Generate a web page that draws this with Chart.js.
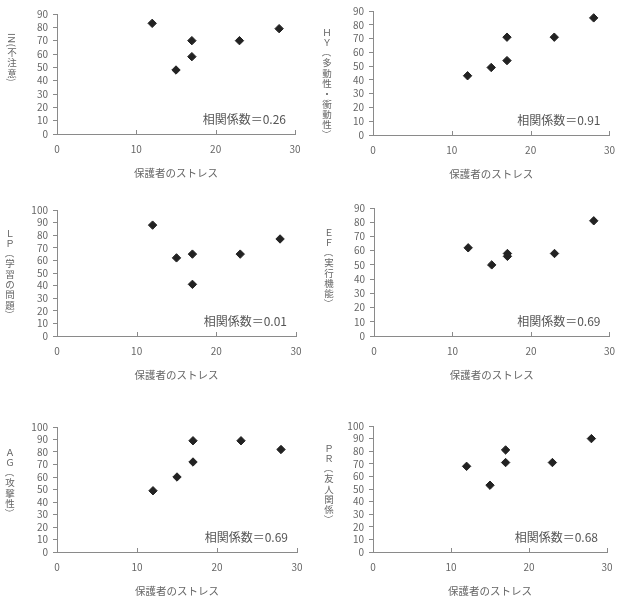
<!DOCTYPE html>
<html>
<head>
<meta charset="utf-8">
<script src="https://cdn.jsdelivr.net/npm/chart.js@4.4.1/dist/chart.umd.min.js"></script>
<style>
  body { margin: 0; background: #fff; }
  #page { position: relative; width: 624px; height: 604px; overflow: hidden; }
  .panel { position: absolute; width: 312px; }
</style>
</head>
<body>
<div id="page"></div>
<script>
// 保護者のストレス (x) と各尺度 (y)
const stress   = [12, 15, 17, 17, 23, 28];
const inScores = [83, 48, 70, 58, 70, 79];
const hyScores = [43, 49, 71, 54, 71, 85];
const lpScores = [88, 62, 65, 41, 65, 77];
const efScores = [62, 50, 58, 56, 58, 81];
const agScores = [49, 60, 89, 72, 89, 82];
const prScores = [68, 53, 81, 71, 71, 90];

const yTitles = ['IN(不注意)', 'ＨＹ（多動性・衝動性）', 'ＬＰ（学習の問題）',
                 'ＥＦ（実行機能）', 'ＡＧ（攻撃性）', 'ＰＲ（友人関係）'];
const corrValues = ['0.26', '0.91', '0.01', '0.69', '0.69', '0.68'];
const yMaxes = [90, 90, 100, 90, 100, 100];
const xTicks = [0, 10, 20, 30];
const xTitle = '保護者のストレス';

const series = [inScores, hyScores, lpScores, efScores, agScores, prScores];

// パネルの配置 (container位置, padding, 縦書きタイトルの中心x と 上端y)
const panels = [
  { left: 0,   top: 0,   h: 195, pad: { left: 23, right: 17, top: 14, bottom: 16 }, tx: 12, ty: 33 },
  { left: 312, top: 0,   h: 195, pad: { left: 27, right: 11, top: 10, bottom: 15 }, tx: 15, ty: 27 },
  { left: 0,   top: 195, h: 215, pad: { left: 23, right: 16, top: 15, bottom: 29 }, tx: 10, ty: 33 },
  { left: 312, top: 195, h: 215, pad: { left: 28, right: 11, top: 13, bottom: 29 }, tx: 17, ty: 32 },
  { left: 0,   top: 410, h: 194, pad: { left: 23, right: 15, top: 17, bottom: 7 },  tx: 10, ty: 37 },
  { left: 312, top: 410, h: 194, pad: { left: 27, right: 17, top: 16, bottom: 7 },  tx: 17, ty: 33 }
];

const axisColor = '#8a8a8a';
const textColor = '#666';
const fontFamily = '"Noto Sans CJK JP", sans-serif';

// 縦書きの y 軸タイトル (半角文字と括弧は90度回転)
function drawVertical(ctx, text, cx, top, size, step) {
  ctx.font = size + 'px ' + fontFamily;
  ctx.textAlign = 'center';
  ctx.textBaseline = 'middle';
  let y = top;
  for (const ch of text) {
    const w = ctx.measureText(ch).width;
    const rotate = ch.charCodeAt(0) < 0x80 || ch === '（' || ch === '）';
    if (rotate) {
      ctx.save();
      ctx.translate(cx, y + w / 2);
      ctx.rotate(Math.PI / 2);
      ctx.fillText(ch, 0, 0);
      ctx.restore();
      y += w + 0.5;
    } else {
      ctx.fillText(ch, cx, y + step / 2);
      y += step;
    }
  }
}

// 相関係数の表示、x 軸の内向き目盛り、y 軸タイトル
const extrasPlugin = {
  id: 'extras',
  afterDraw(chart, args, opts) {
    const ctx = chart.ctx;
    const area = chart.chartArea;
    const xs = chart.scales.x;
    ctx.save();
    ctx.strokeStyle = axisColor;
    ctx.lineWidth = 1;
    xTicks.forEach(v => {
      if (v === 0) return;
      const px = Math.round(xs.getPixelForValue(v)) + 0.5;
      ctx.beginPath();
      ctx.moveTo(px, area.bottom);
      ctx.lineTo(px, area.bottom - 4);
      ctx.stroke();
    });
    ctx.fillStyle = '#555';
    ctx.font = '12px ' + fontFamily;
    ctx.textAlign = 'right';
    ctx.textBaseline = 'middle';
    ctx.fillText('相関係数＝' + opts.corr, area.right - 9, area.bottom - 15);
    ctx.fillStyle = textColor;
    drawVertical(ctx, opts.title, opts.tx, opts.ty, 9.5, 10.3);
    ctx.restore();
  }
};

const page = document.getElementById('page');

panels.forEach((p, i) => {
  const div = document.createElement('div');
  div.className = 'panel';
  div.style.left = p.left + 'px';
  div.style.top = p.top + 'px';
  div.style.height = p.h + 'px';
  const canvas = document.createElement('canvas');
  div.appendChild(canvas);
  page.appendChild(div);

  new Chart(canvas, {
    type: 'scatter',
    data: {
      datasets: [{
        data: stress.map((x, j) => ({ x: x, y: series[i][j] })),
        pointStyle: 'rectRot',
        pointRadius: 4.2,
        borderWidth: 1,
        backgroundColor: '#222',
        borderColor: '#222'
      }]
    },
    options: {
      responsive: true,
      maintainAspectRatio: false,
      animation: false,
      layout: { padding: p.pad },
      plugins: {
        legend: { display: false },
        tooltip: { enabled: false },
        extras: { corr: corrValues[i], title: yTitles[i], tx: p.tx, ty: p.ty }
      },
      scales: {
        x: {
          type: 'linear',
          min: 0,
          max: 30,
          afterFit: s => { s.height = 45; },
          afterBuildTicks: s => { s.ticks = xTicks.map(v => ({ value: v })); },
          grid: { display: false, drawTicks: false },
          border: { display: true, color: axisColor, width: 1 },
          ticks: { padding: 9, color: textColor, font: { family: fontFamily, size: 10 } },
          title: {
            display: true,
            text: xTitle,
            color: textColor,
            padding: 0,
            font: { family: fontFamily, size: 10.5 }
          }
        },
        y: {
          type: 'linear',
          min: 0,
          max: yMaxes[i],
          afterFit: s => { s.width = 34; },
          ticks: { stepSize: 10, autoSkip: false, padding: 5, color: textColor, font: { family: fontFamily, size: 10 } },
          grid: { display: true, drawOnChartArea: false, drawTicks: true, tickLength: 4, color: axisColor },
          border: { display: true, color: axisColor, width: 1 }
        }
      }
    },
    plugins: [extrasPlugin]
  });
});
</script>
</body>
</html>
